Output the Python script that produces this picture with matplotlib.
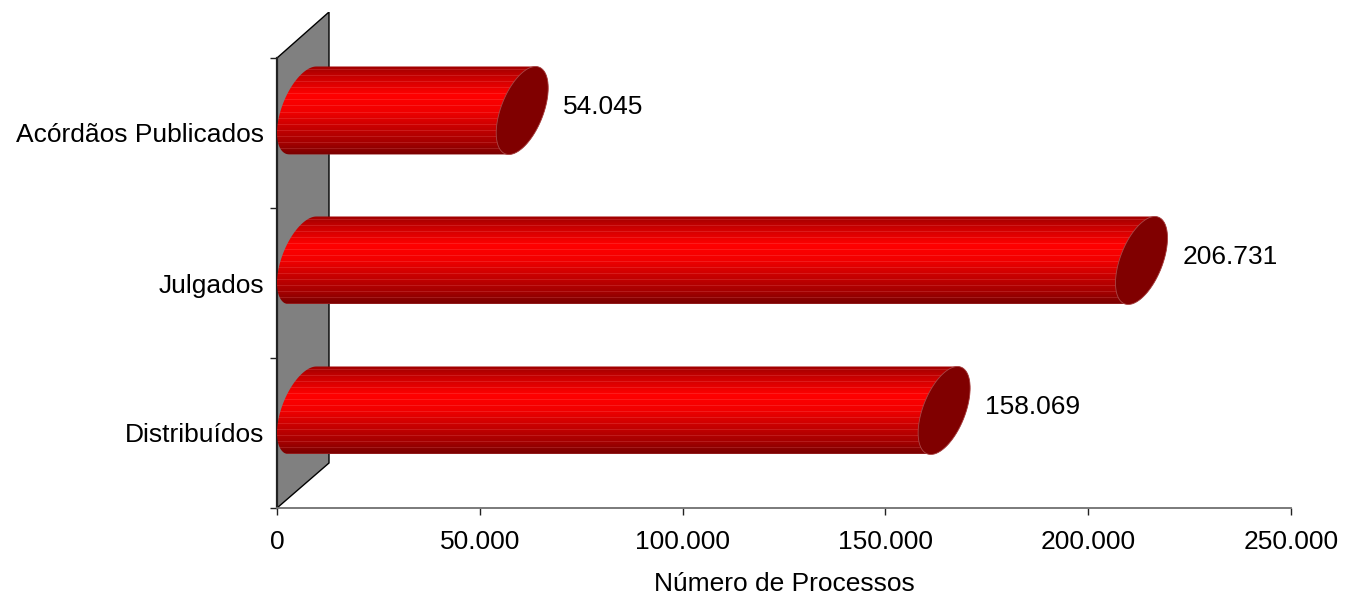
import numpy as np
import matplotlib
matplotlib.use("Agg")
import matplotlib.pyplot as plt
from matplotlib.patches import Polygon
from matplotlib.colors import LinearSegmentedColormap

# Data
categories = ["Distribuídos", "Julgados", "Acórdãos Publicados"]
values = [158069, 206731, 54045]
value_labels = ["158.069", "206.731", "54.045"]
x_ticks = [0, 50000, 100000, 150000, 200000, 250000]
x_ticklabels = ["0", "50.000", "100.000", "150.000", "200.000", "250.000"]
x_label = "Número de Processos"

plt.rcParams["font.family"] = ["Liberation Sans", "DejaVu Sans"]

W, H = 1345, 598
fig = plt.figure(figsize=(W / 100, H / 100), dpi=100)

# plot box in pixels (front plane)
left, right, top, bottom = 277, 1291, 12, 508
ax = fig.add_axes([left / W, 1 - bottom / H, (right - left) / W, (bottom - top) / H])
XMAX = 250000
PX = XMAX / (right - left)   # data units per pixel (x)
SLOT = 150.0                 # pixels per category (y)
DX, DY = 52, 45              # 3d depth offset in pixels
RAD = 44                     # half height of cylinder silhouette
A = DX / 2.0
C = DY / 2.0
B = np.sqrt(RAD ** 2 - C ** 2)


def px_x(p):
    return p * PX


def px_y(p):
    return p / SLOT


# back wall
wall = Polygon(
    [(0, 0), (px_x(DX), px_y(DY)), (px_x(DX), px_y(bottom - top)), (0, 3.0)],
    closed=True, facecolor="#808080", edgecolor="black", linewidth=1.0, zorder=1,
)
ax.add_patch(wall)
ax.plot([0, 0], [0, 3.0], color="#222222", linewidth=1.6, zorder=2, clip_on=False)

# cylinder shading
shade = LinearSegmentedColormap.from_list(
    "cyl",
    [(0.0, "#a00000"), (0.12, "#c80000"), (0.32, "#ff0000"), (0.5, "#f20000"),
     (0.7, "#c40000"), (0.88, "#a00000"), (1.0, "#7a0000")],
)
nrow = 2 * RAD
grad = shade(np.linspace(0, 1, nrow))[:, :3]
for r in range(3, nrow, 6):
    grad[r] = grad[r] * 0.82 + 0.18 * np.array([1.0, 0.6, 0.6])
grad = grad[:, None, :]

t_top = np.arctan2(C, B)


def ellipse_pts(xc_px, yc_px, th):
    return np.column_stack([px_x(xc_px + A * np.sin(th)),
                            px_y(yc_px + B * np.cos(th) + C * np.sin(th))])


for i, (v, lab) in enumerate(zip(values, value_labels)):
    yc = (i + 0.5) * SLOT + C          # pixels above the axis
    x0 = A                             # left cap centre, px
    x1 = v / PX + A                    # right cap centre, px
    th_l = np.linspace(t_top, t_top - np.pi, 60)
    th_r = np.linspace(t_top + np.pi, t_top, 60)
    body_pts = np.vstack([ellipse_pts(x0, yc, th_l), ellipse_pts(x1, yc, th_r)])
    body = Polygon(body_pts, closed=True, facecolor="none", edgecolor="none", zorder=3)
    ax.add_patch(body)
    im = ax.imshow(grad, extent=[0, v + px_x(DX), px_y(yc - RAD), px_y(yc + RAD)],
                   aspect="auto", interpolation="nearest", origin="upper", zorder=3)
    im.set_clip_path(body)

    cap = Polygon(ellipse_pts(x1, yc, np.linspace(0, 2 * np.pi, 120)), closed=True,
                  facecolor="#800000", edgecolor="#a84848", linewidth=0.6, zorder=4)
    ax.add_patch(cap)

    ax.text(v + px_x(DX + 15), px_y(yc + 4), lab, fontsize=19, ha="left",
            va="center", color="black", zorder=5)

ax.set_xlim(0, XMAX)
ax.set_ylim(0, px_y(bottom - top))

for s in ["left", "top", "right"]:
    ax.spines[s].set_visible(False)
ax.spines["bottom"].set_color("#707070")
ax.spines["bottom"].set_linewidth(1.3)

ax.set_xticks(x_ticks)
ax.set_xticklabels(x_ticklabels, fontsize=19)
ax.tick_params(axis="x", direction="out", length=5, width=1, color="#222222", pad=11)
ax.set_xlabel(x_label, fontsize=19, labelpad=13)

ax.set_yticks([0, 1, 2, 3])
ax.set_yticklabels([])
ax.set_yticks([0.5, 1.5, 2.5], minor=True)
ax.set_yticklabels(categories, minor=True, fontsize=19)
ax.tick_params(axis="y", which="major", direction="out", length=5, width=1, color="#222222")
ax.tick_params(axis="y", which="minor", length=0, pad=9)

fig.savefig("out.png", dpi=100)
